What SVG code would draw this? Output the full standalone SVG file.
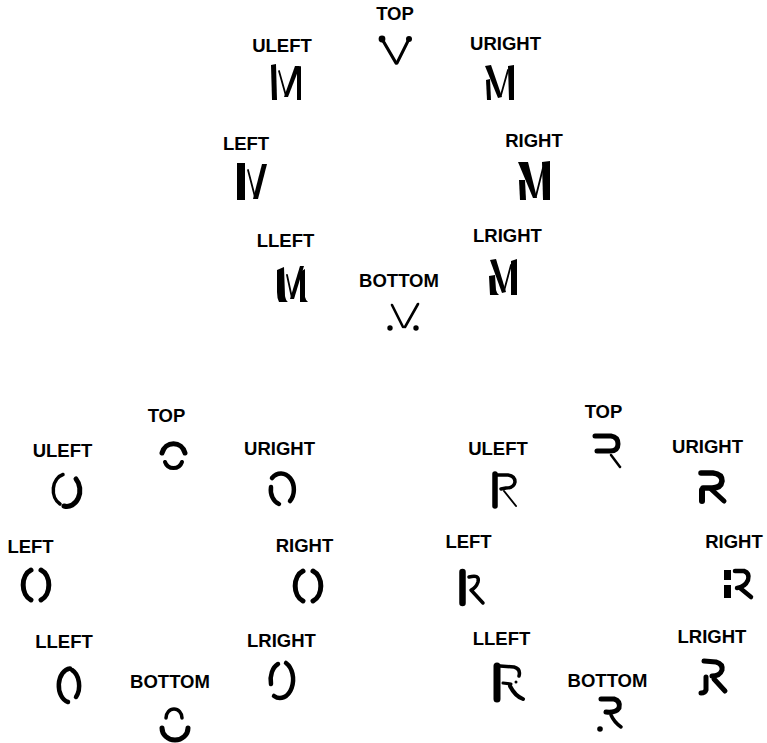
<svg xmlns="http://www.w3.org/2000/svg" width="767" height="743" viewBox="0 0 767 743">
<style>
text{font-family:"Liberation Sans",Arial,Helvetica,sans-serif;font-weight:bold;font-size:18.5px;fill:#000;text-anchor:middle}
.f{fill:#000;stroke:none}
.s{fill:none;stroke:#000;stroke-linecap:round;stroke-linejoin:round}
</style>
<rect width="767" height="743" fill="#fff"/>
<!-- M group -->
<g id="m-top"><text x="395" y="20">TOP</text>
<path class="s" d="M382,39 L396,63" stroke-width="3.2"/><path class="s" d="M409,39 L397,63" stroke-width="3"/>
<circle class="f" cx="382" cy="39" r="3.4"/><circle class="f" cx="409" cy="39" r="3"/></g>
<g id="m-uleft"><text x="282" y="52">ULEFT</text>
<path class="f" d="M271,65 L276,64 L277,100 L272,100Z"/>
<path class="s" d="M279,71 L286,96" stroke-width="1.8"/>
<path class="f" d="M284,97 L288,97 L300,66 L295,66Z"/>
<path class="f" d="M297,68 L301,66 L301,100 L297,100Z"/></g>
<g id="m-uright"><text x="505.5" y="50">URIGHT</text>
<path class="f" d="M485,66 L491,65 L502,97 L498,98Z"/>
<path class="f" d="M486,80 L490,79 L491,100 L487,100Z"/>
<path class="s" d="M501,95 L508,70" stroke-width="1.8"/>
<path class="f" d="M508,66 L514,65 L514,100 L509,100Z"/></g>
<g id="m-left"><text x="246" y="150">LEFT</text>
<path class="f" d="M237,163 L245,163 L245,200 L237,200Z"/>
<path class="s" d="M248,170 L255,197" stroke-width="1.8"/>
<path class="f" d="M253,199 L258,199 L267,164 L262,164Z"/></g>
<g id="m-right"><text x="534" y="147">RIGHT</text>
<path class="f" d="M518,162 L528,162 L537,198 L533,198Z"/>
<path class="f" d="M519,180 L525,180 L526,200 L520,200Z"/>
<path class="s" d="M536,196 L543,168" stroke-width="1.8"/>
<path class="f" d="M542,162 L550,161 L550,200 L543,200Z"/></g>
<g id="m-lleft"><text x="285.5" y="247">LLEFT</text>
<path class="f" d="M277,270 L284,267 L285,296 Q286,301 288,302 L279,302 Q277,298 277,292Z"/>
<path class="s" d="M287,275 L292,298" stroke-width="1.8"/>
<path class="f" d="M290,299 L294,299 L304,266 L300,266Z"/>
<path class="f" d="M300,272 L305,269 L305,297 Q306,301 308,302 L300,302Z"/></g>
<g id="m-lright"><text x="507.5" y="242">LRIGHT</text>
<path class="f" d="M490,260 L496,259 L506,292 L502,293Z"/>
<path class="f" d="M489,276 L495,275 L496,290 Q497,294 499,295 L490,295Z"/>
<path class="s" d="M504,291 L511,265" stroke-width="1.8"/>
<path class="f" d="M511,261 L517,259 L517,295 L511,295Z"/></g>
<g id="m-bottom"><text x="399" y="287">BOTTOM</text>
<path class="s" d="M392,305 L403,327" stroke-width="2.6"/><path class="s" d="M418,304 L405,327" stroke-width="2.6"/>
<circle class="f" cx="390" cy="328" r="2.7"/><circle class="f" cx="416" cy="328" r="2.7"/></g>
<!-- O group -->
<g id="o-top"><text x="166.5" y="422">TOP</text>
<path class="s" d="M162,453 A12,13 0 0 1 185,453" stroke-width="5"/>
<path class="s" d="M165,462 A9,9 0 0 0 182,462" stroke-width="4"/></g>
<g id="o-uleft"><text x="62.5" y="457">ULEFT</text>
<path class="s" d="M63,474.5 A13,16 0 0 0 60,504" stroke-width="3.5"/>
<path class="s" d="M76,479 A13,16 0 0 1 64,506" stroke-width="5"/></g>
<g id="o-uright"><text x="279.5" y="455">URIGHT</text>
<path class="s" d="M272,478 A12,15 0 0 1 290,501" stroke-width="4.5"/>
<path class="s" d="M271,487 A12,15 0 0 0 279,504" stroke-width="4.5"/></g>
<g id="o-left"><text x="30.5" y="553">LEFT</text>
<path class="s" d="M31,570 A12,16 0 0 0 31,600" stroke-width="5"/>
<path class="s" d="M41,570 A12,16 0 0 1 41,600" stroke-width="5"/></g>
<g id="o-right"><text x="304.5" y="552">RIGHT</text>
<path class="s" d="M303,571 A12,16 0 0 0 303,601" stroke-width="5"/>
<path class="s" d="M313,571 A12,16 0 0 1 313,601" stroke-width="5"/></g>
<g id="o-lleft"><text x="64" y="648">LLEFT</text>
<path class="s" d="M70,668.5 A12,17 0 0 0 68,702" stroke-width="4.5"/>
<path class="s" d="M72,670 A12,17 0 0 1 76,697" stroke-width="4.5"/></g>
<g id="o-lright"><text x="281.5" y="647">LRIGHT</text>
<path class="s" d="M278,664 A12,17 0 0 0 271,684" stroke-width="4.5"/>
<path class="s" d="M286,663 A12,17 0 0 1 274,696" stroke-width="4.5"/></g>
<g id="o-bottom"><text x="170" y="688">BOTTOM</text>
<path class="s" d="M166,718 A8,9 0 0 1 182,718" stroke-width="3.5"/>
<path class="s" d="M162,728 A13,12 0 0 0 188,728" stroke-width="5"/></g>
<!-- R group -->
<g id="r-top"><text x="603.5" y="418">TOP</text>
<path class="s" d="M595,436 L611,436 Q618,437 618,444 Q618,451 610,451 L597,451" stroke-width="5"/>
<path class="s" d="M611,455 L620,467" stroke-width="2.5"/></g>
<g id="r-uleft"><text x="498" y="455">ULEFT</text>
<path class="s" d="M495,474 L495,506" stroke-width="5.5"/>
<path class="s" d="M497,475 L508,475 Q515,476 515,482 Q514,488 506,488 L501,489" stroke-width="3.5"/>
<path class="s" d="M504,491 L516,506" stroke-width="2"/></g>
<g id="r-uright"><text x="707.5" y="453">URIGHT</text>
<path class="s" d="M701,473 L713,473 Q722,474 722,481 Q721,488 712,488 L703,488" stroke-width="5.5"/>
<path class="s" d="M702,490 L702,501" stroke-width="6"/>
<path class="s" d="M711,489 L724,501" stroke-width="5"/></g>
<g id="r-left"><text x="468.5" y="548">LEFT</text>
<path class="s" d="M462.5,572 L462.5,603" stroke-width="6.5"/>
<path class="s" d="M469,577 Q480,574 478,582 Q476,588 471,590 L483,603" stroke-width="3.5"/></g>
<g id="r-right"><text x="734" y="548">RIGHT</text>
<rect class="f" x="724" y="570" width="7" height="10"/>
<rect class="f" x="724" y="585" width="7" height="13"/>
<path class="s" d="M735,571 L744,571 Q750,573 748,580 Q745,587 737,588" stroke-width="4.5"/>
<path class="s" d="M740,588 L751,597" stroke-width="4.5"/></g>
<g id="r-lleft"><text x="501.5" y="645">LLEFT</text>
<path class="s" d="M497,666 L497,699" stroke-width="7"/>
<path class="s" d="M500,666 L514,667 Q521,669 519,676" stroke-width="3.5"/>
<path class="s" d="M503,683 L511,684" stroke-width="3"/>
<circle class="f" cx="516" cy="682" r="1.5"/>
<path class="s" d="M510,686 Q515,696 523,699" stroke-width="4"/></g>
<g id="r-lright"><text x="712" y="643">LRIGHT</text>
<path class="s" d="M704,661 L716,662 Q723,664 722,670 Q720,676 712,676" stroke-width="5"/>
<path class="s" d="M706,677 L706,690 Q705,693 701,693" stroke-width="5"/>
<path class="s" d="M714,679 L725,691" stroke-width="5"/></g>
<g id="r-bottom"><text x="607.5" y="687">BOTTOM</text>
<path class="s" d="M601,699 L614,699 Q621,701 619,708 Q616,713 606,712" stroke-width="5"/>
<path class="s" d="M611,715 Q614,722 621,727" stroke-width="3.5"/>
<circle class="f" cx="600" cy="729" r="2.8"/></g>
<g id="connectors"/>
</svg>
